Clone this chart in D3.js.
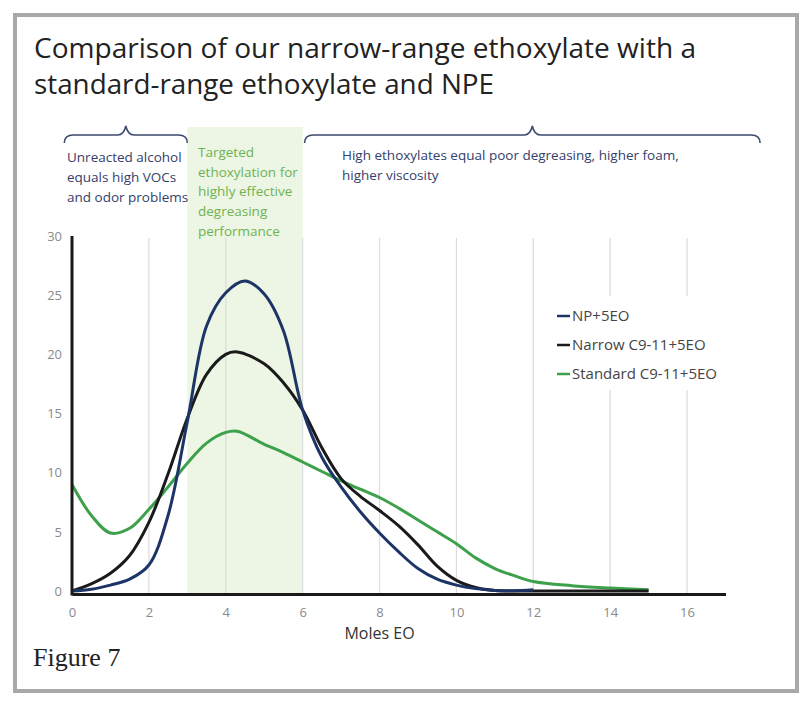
<!DOCTYPE html>
<html>
<head>
<meta charset="utf-8">
<script src="https://cdn.jsdelivr.net/npm/d3@7"></script>
<style>
  body { margin: 0; background: #fff; }
  text { font-family: "Open Sans", sans-serif; }
  text.serif { font-family: "Liberation Serif", "DejaVu Serif", serif; }
</style>
</head>
<body>
<script>
// Donnees
const npX     = [0, 0.5, 1, 1.5, 2, 2.5, 3, 3.5, 4, 4.5, 5, 5.5, 6, 6.5, 7, 7.5, 8, 8.5, 9, 9.5, 10, 10.5, 11, 11.5, 12];
const npY     = [0, 0.15, 0.5, 1.0, 2.2, 6.4, 14.3, 22.4, 25.2, 26.2, 25.1, 22.0, 15.3, 11.3, 8.8, 6.7, 4.9, 3.3, 1.9, 1.0, 0.5, 0.2, 0.05, 0.02, 0.1];
const narrowX = [0, 0.5, 1, 1.5, 2, 2.5, 3, 3.5, 4, 4.3, 5, 5.5, 6, 6.5, 7, 7.5, 8, 8.5, 9, 9.5, 10, 10.5, 11, 12, 15];
const narrowY = [0, 0.6, 1.5, 3.0, 5.8, 9.9, 14.6, 18.3, 20.0, 20.2, 19.2, 17.6, 15.3, 12.1, 9.5, 8.0, 6.8, 5.5, 3.9, 2.1, 0.9, 0.3, 0.05, 0, 0];
const stdX    = [0, 0.5, 1, 1.5, 2, 2.5, 3, 3.5, 4, 4.3, 5, 5.5, 6, 6.5, 7, 7.5, 8, 8.5, 9, 9.5, 10, 10.5, 11, 11.5, 12, 13, 14, 15];
const stdY    = [9, 6.4, 4.9, 5.3, 6.9, 8.8, 10.8, 12.5, 13.4, 13.5, 12.4, 11.7, 10.9, 10.1, 9.3, 8.6, 7.9, 7.0, 6.0, 5.0, 4.0, 2.8, 1.9, 1.3, 0.8, 0.45, 0.25, 0.1];

const seriesNames  = ["NP+5EO", "Narrow C9-11+5EO", "Standard C9-11+5EO"];
const seriesColors = ["#1c3466", "#1a1a1a", "#3da04a"];
const xTicks = [0, 2, 4, 6, 8, 10, 12, 14, 16];
const yTicks = [0, 5, 10, 15, 20, 25, 30];
const gridX  = [2, 4, 6, 8, 10, 12, 14, 16];
const band   = [3, 6];
const braces = [[-0.2, 3.0], [6.05, 17.9]];

const titleLines = ["Comparison of our narrow-range ethoxylate with a", "standard-range ethoxylate and NPE"];
const leftNote   = ["Unreacted alcohol", "equals high VOCs", "and odor problems"];
const midNote    = ["Targeted", "ethoxylation for", "highly effective", "degreasing", "performance"];
const rightNote  = ["High ethoxylates equal poor degreasing, higher foam,", "higher viscosity"];

const W = 812, H = 716;
const svg = d3.select("body").append("svg")
  .attr("width", W)
  .attr("height", H);

const x = d3.scaleLinear().domain([0, 17]).range([72, 725.5]);
const y = d3.scaleLinear().domain([0, 30]).range([591, 236]);

// cadre gris
svg.append("rect")
  .attr("x", 15).attr("y", 15).attr("width", 782).attr("height", 676)
  .attr("fill", "#fff").attr("stroke", "#a8a8a8").attr("stroke-width", 4);

// titre
svg.selectAll(".title").data(titleLines).enter().append("text")
  .attr("x", 34)
  .attr("y", (d, i) => 58 + i * 36)
  .attr("font-size", 28)
  .attr("fill", "#222")
  .attr("textLength", (d, i) => i === 0 ? 662 : 460)
  .attr("lengthAdjust", "spacingAndGlyphs")
  .text(d => d);

// bande verte
svg.append("rect")
  .attr("x", x(band[0])).attr("y", 127)
  .attr("width", x(band[1]) - x(band[0]))
  .attr("height", y(0) + 3 - 127)
  .attr("fill", "#edf5e5");

// grille
svg.selectAll(".grid").data(gridX).enter().append("line")
  .attr("x1", d => x(d)).attr("x2", d => x(d))
  .attr("y1", y(30) + 2).attr("y2", y(0) + 3)
  .attr("stroke", "#dcdcdc").attr("stroke-width", 1.2);

// accolades
function bracePath(a, b) {
  const x0 = x(a), x1 = x(b), m = (x0 + x1) / 2, yl = 135;
  return "M" + x0 + "," + 143 +
    "Q" + x0 + "," + yl + " " + (x0 + 9) + "," + yl +
    "L" + (m - 8) + "," + yl +
    "Q" + (m - 2) + "," + yl + " " + m + "," + 126 +
    "Q" + (m + 2) + "," + yl + " " + (m + 8) + "," + yl +
    "L" + (x1 - 9) + "," + yl +
    "Q" + x1 + "," + yl + " " + x1 + "," + 143;
}
svg.selectAll(".brace").data(braces).enter().append("path")
  .attr("d", d => bracePath(d[0], d[1]))
  .attr("fill", "none").attr("stroke", "#3c4a6e").attr("stroke-width", 1.6);

// notes
function note(lines, x0, y0, dy, color) {
  svg.append("g").selectAll("text").data(lines).enter().append("text")
    .attr("x", x0).attr("y", (d, i) => y0 + i * dy)
    .attr("font-size", 13.5).attr("fill", color)
    .text(d => d);
}
note(leftNote, 67, 162, 20, "#34406b");
note(midNote, 198, 157, 19.7, "#6db350");
note(rightNote, 342, 160, 20, "#34406b");

// courbes
const line = d3.line()
  .x(d => x(d[0]))
  .y(d => y(d[1]))
  .curve(d3.curveCatmullRom.alpha(0.5));

const series = [
  d3.zip(npX, npY),
  d3.zip(narrowX, narrowY),
  d3.zip(stdX, stdY)
];

// legende (fond blanc)
svg.append("rect")
  .attr("x", 540).attr("y", 296).attr("width", 190).attr("height", 94)
  .attr("fill", "#fff");

// ordre : vert, noir, bleu
[2, 1, 0].forEach(i => {
  svg.append("path")
    .datum(series[i])
    .attr("fill", "none")
    .attr("stroke", seriesColors[i])
    .attr("stroke-width", 3)
    .attr("stroke-linejoin", "round")
    .attr("d", line);
});

// axes
const xAxis = svg.append("g")
  .attr("transform", "translate(0," + (y(0) + 3) + ")")
  .call(d3.axisBottom(x).tickValues(xTicks).tickSize(0).tickSizeOuter(0).tickPadding(14));
const yAxis = svg.append("g")
  .attr("transform", "translate(" + x(0) + ",0)")
  .call(d3.axisLeft(y).tickValues(yTicks).tickSize(0).tickSizeOuter(0).tickPadding(10));

[xAxis, yAxis].forEach(ax => {
  ax.select(".domain").attr("stroke", "#1a1a1a").attr("stroke-width", 3);
  ax.selectAll("text").attr("font-size", 13).attr("fill", "#8a8a8a");
});
yAxis.select(".domain").attr("d", "M0," + (y(0) + 4.5) + "V" + y(30));

svg.append("text")
  .attr("x", x(8)).attr("y", 639)
  .attr("text-anchor", "middle")
  .attr("font-size", 16).attr("fill", "#333")
  .text("Moles EO");

const leg = svg.selectAll(".leg").data(seriesNames).enter().append("g")
  .attr("transform", (d, i) => "translate(557," + (316 + i * 29) + ")");
leg.append("line")
  .attr("x1", 0).attr("x2", 13).attr("y1", 0).attr("y2", 0)
  .attr("stroke", (d, i) => seriesColors[i]).attr("stroke-width", 2.5);
leg.append("text")
  .attr("x", 15).attr("dy", "0.35em")
  .attr("font-size", 15).attr("fill", "#444")
  .text(d => d);

svg.append("text")
  .attr("class", "serif")
  .attr("x", 33).attr("y", 666)
  .attr("font-size", 26).attr("fill", "#222")
  .text("Figure 7");
</script>
</body>
</html>
